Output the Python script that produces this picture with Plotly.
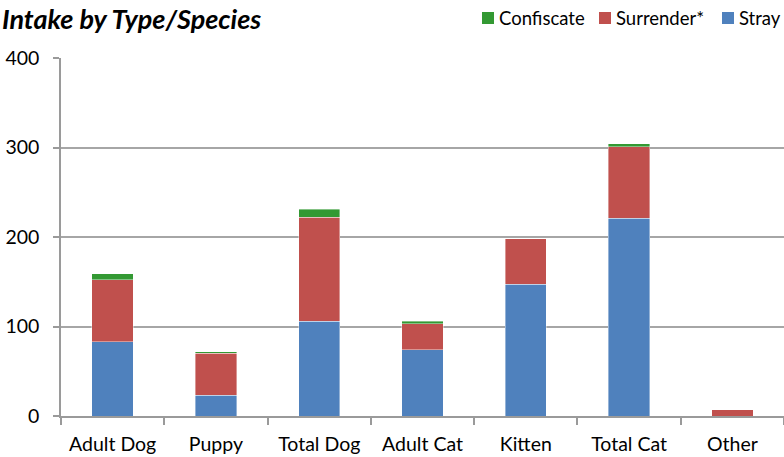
import plotly.graph_objects as go

categories = ["Adult Dog", "Puppy", "Total Dog", "Adult Cat", "Kitten", "Total Cat", "Other"]
stray = [83, 23, 106, 74, 147, 221, 0]
surrender = [69, 47, 116, 29, 51, 80, 7]
confiscate = [7, 2, 9, 3, 0, 3, 0]
y_ticks = [0, 100, 200, 300, 400]
title_text = "Intake by Type/Species"

BLUE = "#4F81BD"
RED = "#C0504D"
GREEN = "#339933"
FONT = "Lato"
W, H = 784, 457
L, R, T, B = 61, 0, 58, 41


def px_x(p):
    return (p - L) / (W - L - R)


def px_y(p):
    return (H - B - p) / (H - T - B)


series = [("Stray", stray, BLUE), ("Surrender*", surrender, RED), ("Confiscate", confiscate, GREEN)]

fig = go.Figure()
for name, vals, col in series:
    fig.add_trace(go.Bar(x=categories, y=vals, name=name, showlegend=False,
                         marker=dict(color=col, line=dict(color="rgba(255,255,255,0.5)", width=0.8)),
                         width=0.4))

shapes = []
annotations = []
# manual legend (Confiscate, Surrender*, Stray)
legend_pos = [("Confiscate", GREEN, 482), ("Surrender*", RED, 599), ("Stray", BLUE, 722)]
for name, col, x0 in legend_pos:
    shapes.append(dict(type="rect", xref="paper", yref="paper", x0=px_x(x0), x1=px_x(x0 + 12),
                       y0=px_y(24), y1=px_y(12), fillcolor=col, line=dict(width=0)))
    annotations.append(dict(text=name, xref="paper", yref="paper", x=px_x(x0 + 15), y=px_y(18),
                            xanchor="left", yanchor="middle", showarrow=False,
                            font=dict(size=18.5, family=FONT, color="black")))

annotations.append(dict(text="<b><i>" + title_text + "</i></b>", xref="paper", yref="paper",
                        x=px_x(0), y=px_y(0), xanchor="left", yanchor="top", showarrow=False,
                        font=dict(size=27, family=FONT, color="black")))

fig.update_layout(
    barmode="stack",
    width=W, height=H,
    margin=dict(l=L, r=R, t=T, b=B),
    plot_bgcolor="white", paper_bgcolor="white",
    font=dict(family=FONT, size=19, color="black"),
    showlegend=False,
    xaxis=dict(type="category", range=[-0.5, 6.5], showline=True, linecolor="#9a9a9a", linewidth=1.5,
               ticks="outside", tickson="boundaries", ticklen=7, tickcolor="#9a9a9a", tickwidth=1.5,
               showgrid=False, tickfont=dict(size=19.5), automargin=False, ticklabelstandoff=10),
    yaxis=dict(range=[0, 400], tickvals=y_ticks, showline=True, linecolor="#9a9a9a", linewidth=1.5,
               ticks="outside", ticklen=6, tickcolor="#9a9a9a", tickwidth=1.5,
               showgrid=True, gridcolor="#a6a6a6", gridwidth=1.5, zeroline=False,
               tickfont=dict(size=19.5), automargin=False, ticklabelstandoff=10),
    shapes=shapes,
    annotations=annotations,
)
fig.write_html("out.html", config={"displayModeBar": False},
               post_script="document.body.style.margin='0';document.body.style.overflow='hidden';")
